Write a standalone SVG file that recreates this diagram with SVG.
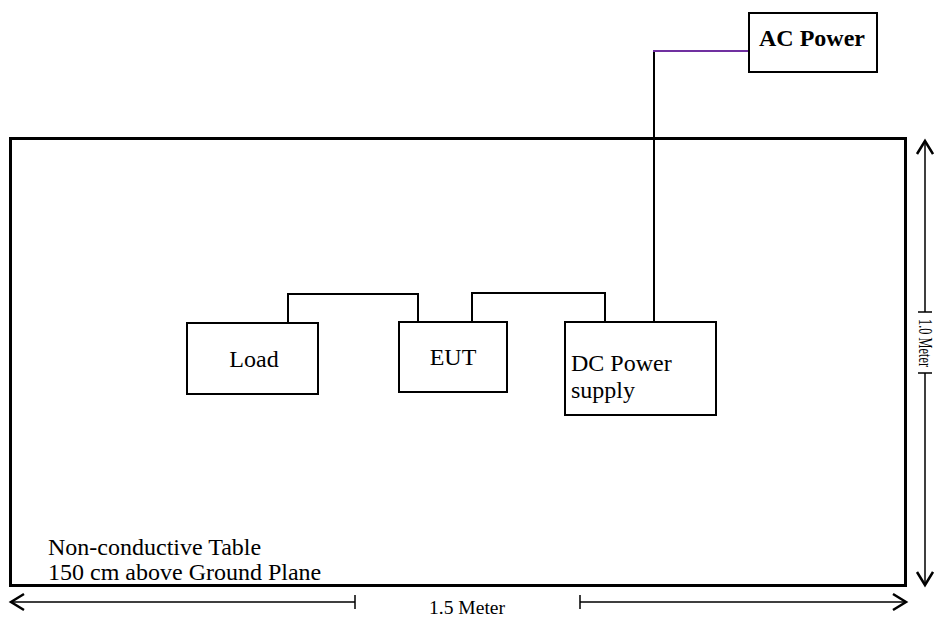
<svg xmlns="http://www.w3.org/2000/svg" width="934" height="617" viewBox="0 0 934 617">
<defs>
<style>
.box{fill:#fff;stroke:#000;stroke-width:2}
.t{font-family:"Liberation Serif","Times New Roman",serif;font-size:24px;fill:#000}
.wire{fill:none;stroke:#000;stroke-width:2}
.dim{fill:none;stroke:#000;stroke-width:1.5}
.head{fill:none;stroke:#000;stroke-width:2.5}
.small{font-family:"Liberation Serif","Times New Roman",serif;font-size:18px;fill:#000}
</style>
</defs>
<rect width="934" height="617" fill="#fff"/>
<g id="table">
<rect x="10.5" y="138.5" width="895" height="447" fill="none" stroke="#000" stroke-width="3"/>
<text class="t" x="48" y="555">Non-conductive Table</text>
<text class="t" x="48" y="580">150 cm above Ground Plane</text>
</g>
<g id="connectors">
<path class="wire" d="M288 323V294H418V322"/>
<path class="wire" d="M472 322V293H605V322"/>
<path class="wire" d="M654 322V51"/>
<path fill="none" stroke="#7030A0" stroke-width="2" d="M653 51H749"/>
</g>
<g id="ac-power">
<rect class="box" x="749" y="13" width="128" height="59"/>
<text class="t" x="812" y="46" text-anchor="middle" font-weight="bold" font-size="26">AC Power</text>
</g>
<g id="load">
<rect class="box" x="187" y="323" width="131" height="71"/>
<text class="t" x="254" y="367" text-anchor="middle">Load</text>
</g>
<g id="eut">
<rect class="box" x="399" y="322" width="108" height="70"/>
<text class="t" x="453" y="365" text-anchor="middle">EUT</text>
</g>
<g id="dc-power">
<rect class="box" x="565" y="322" width="151" height="93"/>
<text class="t" x="571" y="371">DC Power</text>
<text class="t" x="571" y="398">supply</text>
</g>
<g id="dimensions">
<path class="dim" d="M11 602H355M355 595V609M580 602H906M580 595V609"/>
<path class="head" d="M24 594L11 602L24 610M893 594L906 602L893 610"/>
<text class="small" x="467" y="614" text-anchor="middle" textLength="76" lengthAdjust="spacingAndGlyphs">1.5 Meter</text>
<path class="dim" d="M925 141V312M918 312H932M925 373V585M918 373H932"/>
<path class="head" d="M917 154L925 141L933 154M917 572L925 585L933 572"/>
<text class="small" transform="translate(919 343) rotate(90)" text-anchor="middle" textLength="48" lengthAdjust="spacingAndGlyphs">1.0 Meter</text>
</g>
</svg>
